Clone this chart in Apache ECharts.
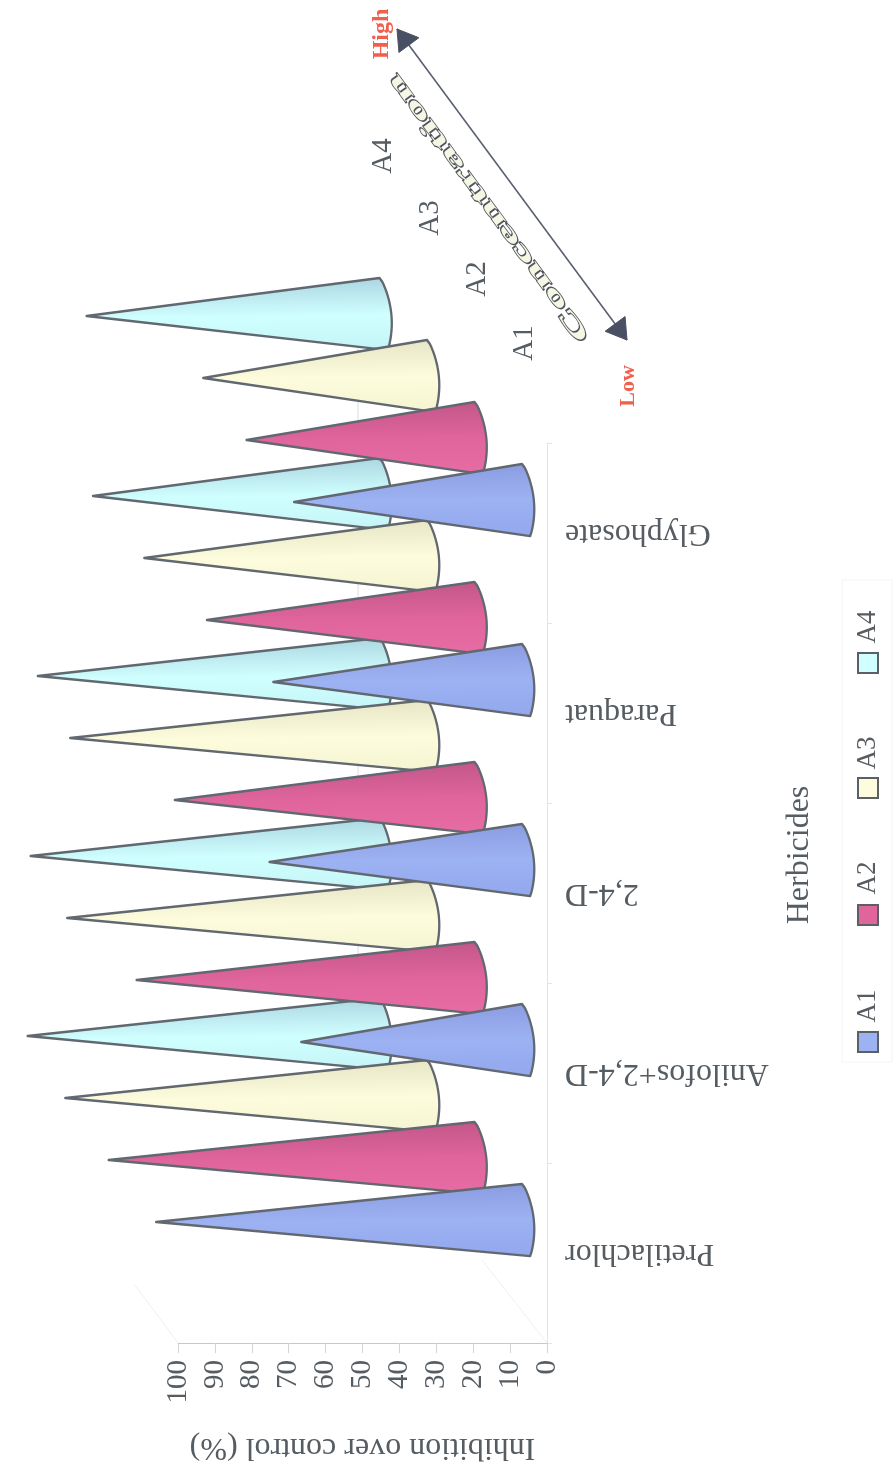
<!DOCTYPE html>
<html><head><meta charset="utf-8">
<script src="https://cdn.jsdelivr.net/npm/echarts@6/dist/echarts.min.js"></script>
<style>html,body{margin:0;background:#fff}#c{width:895px;height:1473px}</style></head>
<body><div id="c"></div>
<script>
const categories = ['Pretilachlor','Anilofos+2,4-D','2,4-D','Paraquat','Glyphosate'];
const seriesNames = ['A1','A2','A3','A4'];
const A1 = [100, 61.6, 70, 69, 63.5];
const A2 = [100, 92.6, 82.5, 74, 63.5];
const A3 = [98.9, 98.4, 97.6, 78, 62.4];
const A4 = [96.3, 95.5, 93.6, 79, 80.7];
const seriesValues = [A1, A2, A3, A4];
const valueTicks = {min: 0, max: 100, interval: 10};

const FONT = '"Liberation Serif", serif';
const INK = '#555c62';
const stops = [
  ['#8798de','#9db2f2','#93a8ee'],
  ['#bd5487','#e0659c','#e86ca4'],
  ['#e2e2c2','#fdfdde','#f4f4d2'],
  ['#a6d0dc','#d0ffff','#c4f4f6']
];
const legendY = [[1032,1006],[905,878],[778,753],[653,627]];
const insetLabels = [[524,343],[477,279],[430,218],[383,156]];

function coneItem(i){
  return function(params, api){
    const cat = api.value(0), v = api.value(1);
    const p0 = api.coord([0, cat]), pv = api.coord([v, cat]);
    const bulge = p0[0] - 13 - 47.5 * i;
    const yc = p0[1] - 31 - 62 * i;
    const apex = bulge + (pv[0] - p0[0]) * 1.024;
    const pts = [[apex, yc]];
    const hw = 38;
    const tx = bulge - 12, bx = bulge - 6;
    for (let t = 0; t <= 1.0001; t += 0.05) {
      const y = yc - hw + 2 * hw * t;
      const chord = tx + (bx - tx) * t;
      const s = Math.sin(Math.PI * t);
      pts.push([chord + (bulge - (tx + bx) / 2) * Math.pow(s, 0.7), y]);
    }
    return {
      type: 'polygon',
      shape: {points: pts},
      style: {
        fill: {type:'linear', x:0, y:0, x2:0, y2:1, colorStops:[
          {offset:0, color:stops[i][0]},{offset:0.55, color:stops[i][1]},{offset:1, color:stops[i][2]}]},
        stroke: '#62686f', lineWidth: 2.3, lineJoin: 'round'
      }
    };
  };
}

function arrowHead(tip, from, size){
  const a = Math.atan2(from[1]-tip[1], from[0]-tip[0]);
  const w = size * 0.62;
  const bx = tip[0] + Math.cos(a)*size, by = tip[1] + Math.sin(a)*size;
  return {type:'polygon', shape:{points:[tip,
    [bx - Math.sin(a)*w, by + Math.cos(a)*w],
    [bx + Math.sin(a)*w, by - Math.cos(a)*w]]},
    style:{fill:'#4a5064', stroke:'#4a5064'}};
}
function rotText(text, x, y, size, color, extra){
  return Object.assign({type:'text', x, y, rotation: Math.PI/2,
    style: Object.assign({text, font: size+'px '+FONT, fill: color, textAlign:'center', textVerticalAlign:'middle'}, (extra&&extra.style)||{})},
    extra&&extra.el||{});
}

const graphics = [];
graphics.push({type:'rect', shape:{x:842,y:580,width:50,height:482}, style:{fill:'none', stroke:'#f4f4f4', lineWidth:1}});
graphics.push({type:'line', shape:{x1:547,y1:1343,x2:482,y2:1260}, style:{stroke:'#f0f0f0', lineWidth:1}});
graphics.push({type:'line', shape:{x1:178,y1:1343,x2:135,y2:1285}, style:{stroke:'#f0f0f0', lineWidth:1}});
graphics.push({type:'line', shape:{x1:358,y1:300,x2:358,y2:1111}, style:{stroke:'#dcdcdc', lineWidth:1}});
seriesNames.forEach((n,i)=>{
  graphics.push({type:'rect', shape:{x:858,y:legendY[i][0],width:20,height:20},
    style:{fill:stops[i][1], stroke:'#5a6066', lineWidth:2}});
  graphics.push(rotText(n, 868, legendY[i][1], 27, INK));
  graphics.push(rotText(n, insetLabels[i][0], insetLabels[i][1], 29, INK));
});
graphics.push(rotText('Herbicides', 800, 855, 32, INK));
const tipHigh=[397,29], tipLow=[627,340];
graphics.push({type:'line', shape:{x1:tipHigh[0],y1:tipHigh[1],x2:tipLow[0],y2:tipLow[1]}, style:{stroke:'#5a6070', lineWidth:1.6}});
graphics.push(arrowHead(tipHigh, tipLow, 20));
graphics.push(arrowHead(tipLow, tipHigh, 20));
graphics.push(rotText('High', 382, 34, 24, '#f0604c', {style:{font:'bold 24px '+FONT}}));
graphics.push(rotText('Low', 628, 386, 22, '#f0604c', {style:{font:'bold 22px '+FONT}}));
graphics.push({type:'text', x:489, y:208, rotation: 126.3*Math.PI/180, scaleX:2.12, scaleY:0.9,
  style:{text:'Concentration', font:'bold 25px '+FONT, fill:'#f6f6e4', stroke:'#50565c', lineWidth:1.8, textAlign:'center', textVerticalAlign:'middle'}});

const chart = echarts.init(document.getElementById('c'), null, {renderer:'canvas'});
chart.setOption({
  animation:false,
  backgroundColor:'#fff',
  grid:{left:178, right:348, top:443, bottom:130},
  xAxis:{type:'value', inverse:true, min:valueTicks.min, max:valueTicks.max, interval:valueTicks.interval,
    position:'bottom', splitLine:{show:false},
    axisLine:{show:true, onZero:false, lineStyle:{color:'#c8c8c8'}},
    axisTick:{show:true, length:10, lineStyle:{color:'#d4d4d4'}},
    axisLabel:{rotate:90, margin:17, color:INK, fontFamily:FONT, fontSize:29},
    name:'Inhibition over control (%)', nameLocation:'middle', nameGap:88, nameRotate:180,
    nameTextStyle:{color:INK, fontFamily:FONT, fontSize:32}},
  yAxis:{type:'category', data:categories, position:'right', splitLine:{show:false},
    axisLine:{show:true, onZero:false, lineStyle:{color:'#e4e4e4'}},
    axisTick:{show:true, length:5, lineStyle:{color:'#e4e4e4'}},
    axisLabel:{rotate:180, margin:18, color:INK, fontFamily:FONT, fontSize:32}},
  graphic:{elements:graphics},
  series: seriesNames.map((n,i)=>({
    type:'custom', name:n, z:10-i, clip:false,
    encode:{x:1,y:0},
    renderItem:coneItem(i),
    data: seriesValues[i].map((v,k)=>[k,v])
  }))
});
</script></body></html>
